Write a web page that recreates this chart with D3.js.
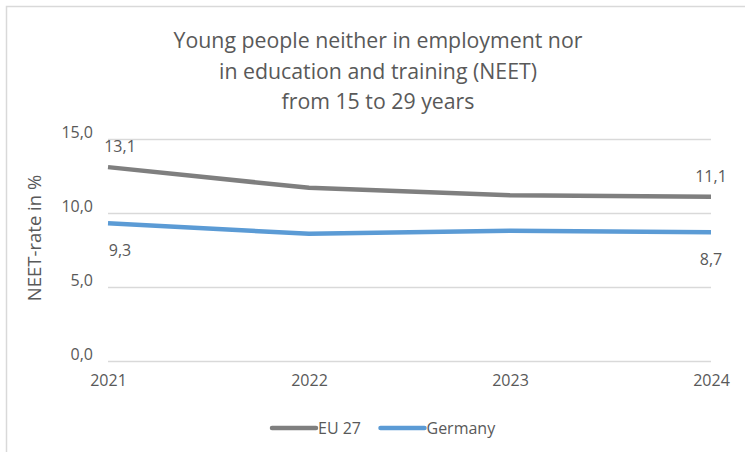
<!DOCTYPE html>
<html>
<head>
<meta charset="utf-8">
<script src="https://cdn.jsdelivr.net/npm/d3@7"></script>
<style>
  body { margin: 0; background: #fff; }
  text { font-family: 'Open Sans', sans-serif; fill: #595959; }
</style>
</head>
<body>
<div class="content"></div>
<script>
var width = 745
var height = 452

var years = ['2021', '2022', '2023', '2024']
var eu27 = [13.1, 11.7, 11.2, 11.1]
var germany = [9.3, 8.6, 8.8, 8.7]
var yTicks = [0, 5, 10, 15]
var titleLines = ['Young people neither in employment nor', 'in education and training (NEET)', 'from 15 to 29 years']

var series = [
    { name: 'EU 27', values: eu27, color: '#7f7f7f', labelDy: -15 },
    { name: 'Germany', values: germany, color: '#5b9bd5', labelDy: 33 }
]

var fmt = function(v) { return d3.format('.1f')(v).replace('.', ',') }

var x = d3.scalePoint()
    .domain(years)
    .range([108, 711])

var y = d3.scaleLinear()
    .domain([0, 15])
    .range([361, 139])

var svg = d3.select('.content').append('svg')
    .attr('width', width)
    .attr('height', height)

// chart border (only left/top visible in the crop)
svg.append('path')
    .attr('d', 'M6.5,' + height + 'V6.5H' + (width + 5))
    .attr('fill', 'none')
    .attr('stroke', '#d9d9d9')
    .attr('stroke-width', 1.5)

svg.append('g')
    .selectAll('text')
    .data(titleLines)
    .enter().append('text')
    .attr('x', 378)
    .attr('y', function(d, i) { return 48 + i * 30.5 })
    .attr('text-anchor', 'middle')
    .style('font-size', '21.3px')
    .text(function(d) { return d })

// grid + y labels
var yAxis = d3.axisLeft(y)
    .tickValues(yTicks)
    .tickSize(-(x.range()[1] - x.range()[0]))
    .tickPadding(15)
    .tickFormat(fmt)

svg.append('g')
    .attr('class', 'y axis')
    .attr('transform', 'translate(' + x.range()[0] + ',0)')
    .call(yAxis)
    .call(function(g) {
        g.select('.domain').remove()
        g.selectAll('line').attr('stroke', '#d9d9d9').attr('stroke-width', 1.3)
        g.selectAll('text').style('font-size', '16px').attr('dy', '-0.1em')
    })

var xAxis = d3.axisBottom(x)
    .tickSize(0)
    .tickPadding(14)

svg.append('g')
    .attr('class', 'x axis')
    .attr('transform', 'translate(0,' + y(0) + ')')
    .call(xAxis)
    .call(function(g) {
        g.select('.domain').remove()
        g.selectAll('text').style('font-size', '16px')
    })

svg.append('text')
    .attr('transform', 'translate(41,' + 238 + ') rotate(-90)')
    .attr('text-anchor', 'middle')
    .style('font-size', '18.5px')
    .text('NEET-rate in %')

var line = d3.line()
    .x(function(d, i) { return x(years[i]) })
    .y(function(d) { return y(d) })

svg.append('g')
    .selectAll('path')
    .data(series)
    .enter().append('path')
    .attr('d', function(d) { return line(d.values) })
    .attr('fill', 'none')
    .attr('stroke', function(d) { return d.color })
    .attr('stroke-width', 4.5)
    .attr('stroke-linejoin', 'round')

// data labels at first and last point
series.forEach(function(s) {
    [0, years.length - 1].forEach(function(i) {
        svg.append('text')
            .attr('x', x(years[i]) + (i === 0 ? 12 : 0))
            .attr('y', y(s.values[i]) + s.labelDy)
            .attr('text-anchor', 'middle')
            .style('font-size', '16px')
            .text(fmt(s.values[i]))
    })
})

// legend
var legend = svg.append('g')
    .selectAll('g')
    .data(series)
    .enter().append('g')
    .attr('transform', function(d, i) { return 'translate(' + (272 + i * 108.5) + ',428)' })

legend.append('line')
    .attr('x1', 0).attr('x2', 44)
    .attr('stroke', function(d) { return d.color })
    .attr('stroke-width', 4.5)
    .attr('stroke-linecap', 'round')

legend.append('text')
    .attr('x', 46)
    .attr('dy', '0.35em')
    .style('font-size', '16px')
    .text(function(d) { return d.name })
</script>
</body>
</html>
